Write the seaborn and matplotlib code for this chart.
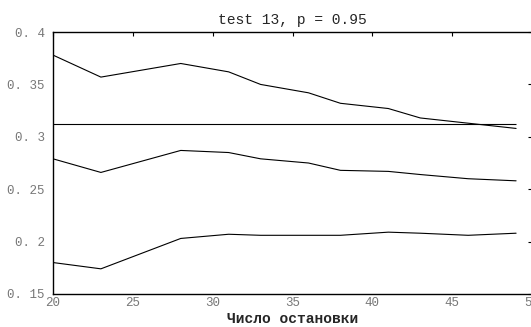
import numpy as np
import pandas as pd
import matplotlib
matplotlib.use("Agg")
import matplotlib.pyplot as plt
import seaborn as sns

# stopping number vs. estimated value (upper / middle / lower curves)
stops = [20, 23, 28, 31, 33, 36, 38, 41, 43, 46, 49]
upper = [0.378, 0.357, 0.370, 0.362, 0.350, 0.342, 0.332, 0.327, 0.318, 0.313, 0.308]
middle = [0.279, 0.266, 0.287, 0.285, 0.279, 0.275, 0.268, 0.267, 0.264, 0.260, 0.258]
lower = [0.180, 0.174, 0.203, 0.207, 0.206, 0.206, 0.206, 0.209, 0.208, 0.206, 0.208]
threshold = 0.312

xticks = [20, 25, 30, 35, 40, 45, 50]
yticks = [0.15, 0.2, 0.25, 0.3, 0.35, 0.4]
ytick_labels = ["0. 15", "0. 2", "0. 25", "0. 3", "0. 35", "0. 4"]

sns.set_style("white")
plt.rcParams["font.family"] = ["Liberation Mono", "DejaVu Sans Mono"]

df = pd.DataFrame({"stop": stops, "upper": upper, "middle": middle, "lower": lower})

fig = plt.figure(figsize=(5.31, 3.27), dpi=100)
ax = fig.add_axes([0.0998, 0.101, 0.9022, 0.801])

for col in ["upper", "middle", "lower"]:
    sns.lineplot(data=df, x="stop", y=col, color="black", linewidth=0.8, ax=ax)
ax.hlines(threshold, stops[0], stops[-1], color="black", linewidth=0.8)

ax.set_xlim(20, 50)
ax.set_ylim(0.15, 0.4)
ax.set_xticks(xticks)
ax.set_xticklabels([str(t) for t in xticks])
ax.set_yticks(yticks)
ax.set_yticklabels(ytick_labels)
ax.tick_params(direction="in", length=3, width=0.8, top=True, right=True,
               labelsize=9, labelcolor="#777777", color="black")
ax.tick_params(axis="x", pad=2.5)
ax.tick_params(axis="y", pad=6)
for s in ax.spines.values():
    s.set_color("black")
    s.set_linewidth(1.0)

ax.set_title("test 13, p = 0.95", fontsize=10.5, pad=6)
ax.set_xlabel("Число остановки", fontsize=10.5, fontweight="bold", labelpad=1.5)
ax.set_ylabel("")

fig.savefig("out.png", dpi=100)
